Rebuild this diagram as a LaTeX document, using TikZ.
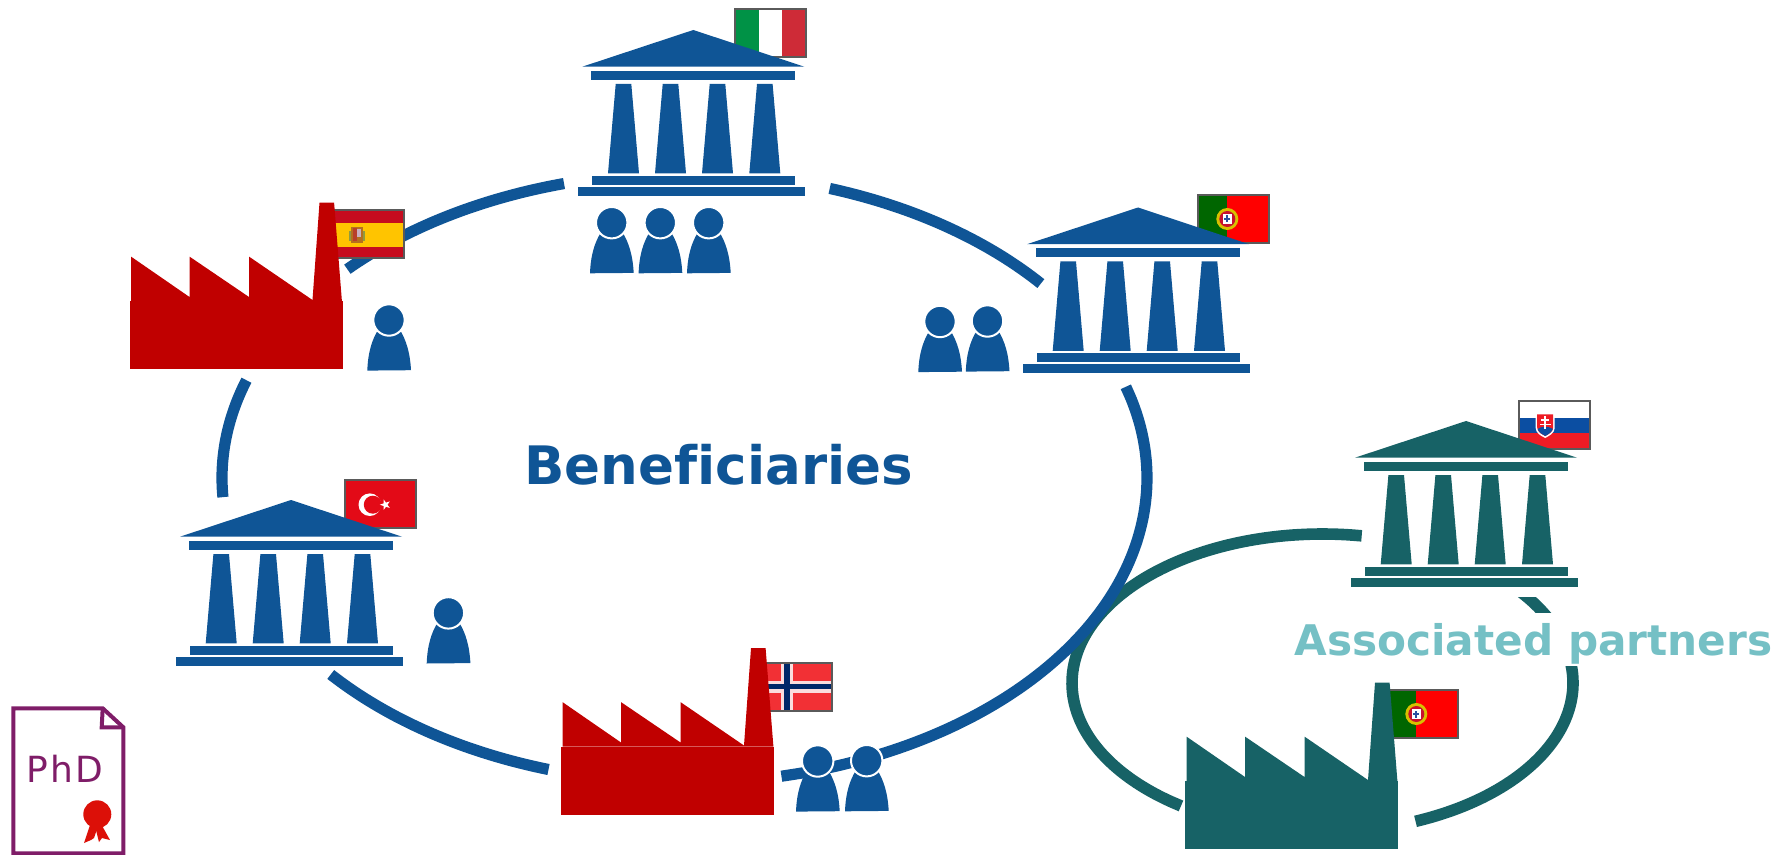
\documentclass[tikz,border=0pt]{standalone}
\usepackage{fontspec}
\setmainfont{DejaVu Sans}[Ligatures=NoCommon]
\definecolor{bblue}{HTML}{0F5596}
\definecolor{tteal}{HTML}{176266}
\definecolor{ltteal}{HTML}{75C0C5}
\definecolor{fred}{HTML}{C00000}
\definecolor{phdp}{HTML}{7F1D68}
\definecolor{flagb}{HTML}{5A5A5A}
\definecolor{itgreen}{HTML}{009246}
\definecolor{itred}{HTML}{CE2B37}
\definecolor{ptgreen}{HTML}{006600}
\definecolor{ptred}{HTML}{FF0000}
\definecolor{ptyel}{HTML}{D8C000}
\definecolor{ptring}{HTML}{C8102E}
\definecolor{ptblue}{HTML}{2A4FA0}
\definecolor{skblue}{HTML}{0B4EA2}
\definecolor{skred}{HTML}{EE1C25}
\definecolor{trred}{HTML}{E30A17}
\definecolor{nored}{HTML}{F23035}
\definecolor{nopale}{HTML}{FBDDDD}
\definecolor{nonavy}{HTML}{002868}
\definecolor{esred}{HTML}{C60B1E}
\definecolor{esyel}{HTML}{FFC400}
\definecolor{esbrown}{HTML}{B5701E}
\definecolor{esred2}{HTML}{B8402A}
\definecolor{esgray}{HTML}{C9B0C0}
\definecolor{esgreen}{HTML}{8F9A40}
\definecolor{sealred}{HTML}{DC1008}
\tikzset{
  ring/.style={line width=5.6pt,draw=bblue},
  tring/.style={line width=5.8pt,draw=tteal},
  flagframe/.style={draw=flagb,line width=1pt},
  pics/temple/.style={code={
    \fill[#1] (0,0)--(-111,36.7)--(111,36.7)--cycle;
    \fill[#1] (-102.3,41) rectangle (101.7,50);
    \foreach \c in {-69.8,-22.8,24.2,71.5}{
      \fill[#1] (\c-7.8,54)--(\c+7.8,54)--(\c+15.5,143.3)--(\c-15.5,143.3)--cycle;}
    \fill[#1] (-101.3,146) rectangle (101.7,155);
    \fill[#1] (-115.3,157) rectangle (111.7,166);
  }},
  pics/factory/.style={code={
    \fill[#1] (0,0) rectangle (213,68);
    \fill[#1] (1.5,0)--(1.5,-44.4)--(60,-4)--(60,-44.4)--(119.5,-4)--(119.5,-44.4)--(183,-1)--(190,-98.3)--(204.6,-98.3)--(212.4,0)--cycle;
  }},
  pics/person/.style={code={
    \fill[bblue] (-21.7,50.6) .. controls (-21,32) and (-17,20) .. (-11,10) -- (11,10) .. controls (17,20) and (21,32) .. (22,50.2) -- cycle;
    \fill[bblue,draw=white,line width=1pt] (0,0) circle (15.7);
  }},
  pics/ptflag/.style={code={
    \fill[ptgreen] (0,0) rectangle (29.3,48);
    \fill[ptred] (29.3,0) rectangle (71,48);
    \fill[ptyel] (29.3,24) circle (11);
    \fill[ptring] (29.3,24) circle (8);
    \fill[white] (25,19) rectangle (33.6,29);
    \fill[ptblue] (28.3,20.5) rectangle (30.3,27.5);
    \fill[ptblue] (26.3,23) rectangle (32.3,25);
    \draw[flagframe] (0,0) rectangle (71,48);
  }}
}
\newcommand{\flagedge}{\draw[flagframe] (0,0) rectangle (71,48);}
\begin{document}
\begin{tikzpicture}[x=0.5pt,y=-0.5pt]
\useasboundingbox (0,0) rectangle (1782,855);
% teal ring
\def\tx#1{1322.5+250.5*cos(#1)}\def\ty#1{683+149*sin(#1)}
\foreach \a/\b in {124.4/279,318/428.2}{
  \draw[tring] plot[smooth,domain=\a:\b,samples=50] ({\tx{\x}},{\ty{\x}});}
\fill[white] (1490,570) rectangle (1600,596.7);
\fill[white] (1295,613) rectangle (1773,666);
% blue ring
\def\ex#1{684.5+462.5*cos(#1)}\def\ey#1{478+305*sin(#1)}
\foreach \a/\b in {223.2/254.9,288.3/320.4,342.6/437.9,107.1/139.9,176.4/198.7}{
  \draw[ring] plot[smooth,domain=\a:\b,samples=40] ({\ex{\x}},{\ey{\x}});}
% Italy flag
\begin{scope}[shift={(735,8.8)}]
  \fill[itgreen] (0,0) rectangle (24,48);
  \fill[white] (24,0) rectangle (47,48);
  \fill[itred] (47,0) rectangle (71,48);
  \flagedge
\end{scope}
% Portugal flags
\pic at (1198,195) {ptflag};
\pic at (1387,690) {ptflag};
% Slovakia
\begin{scope}[shift={(1519,401)}]
  \fill[white] (0,0) rectangle (71,17);
  \fill[skblue] (0,17) rectangle (71,32);
  \fill[skred] (0,32) rectangle (71,48);
  \fill[white] (16.7,12) -- (35.7,12) -- (35.7,27) .. controls (35.7,32) and (30,35) .. (26.2,37) .. controls (22,35) and (16.7,32) .. (16.7,27) -- cycle;
  \fill[skred] (18.2,13.5) -- (34.2,13.5) -- (34.2,26.5) .. controls (34.2,31) and (29,33.5) .. (26.2,35) .. controls (23,33.5) and (18.2,31) .. (18.2,26.5) -- cycle;
  \fill[skblue] (18.6,28) .. controls (22,25) and (30,25) .. (33.8,28) .. controls (32.5,31.5) and (29,33.5) .. (26.2,35) .. controls (23,33.5) and (20,31.5) .. (18.6,28) -- cycle;
  \fill[white] (25.2,15.5) rectangle (27.2,28);
  \fill[white] (22,18.5) rectangle (30.4,20);
  \fill[white] (20.8,22.5) rectangle (31.6,24);
  \flagedge
\end{scope}
% Turkey
\begin{scope}[shift={(344.5,480)}]
  \fill[trred] (0,0) rectangle (71,48);
  \fill[white] (25.3,24.7) circle (11.3);
  \fill[trred] (28.3,24.7) circle (9);
  \begin{scope}[shift={(40.8,24.7)}]
    \fill[white] (180:5.5)--(216:2.2)--(252:5.5)--(288:2.2)--(324:5.5)--(0:2.2)--(36:5.5)--(72:2.2)--(108:5.5)--(144:2.2)--cycle;
  \end{scope}
  \flagedge
\end{scope}
% Norway
\begin{scope}[shift={(761,662.7)}]
  \fill[nored] (0,0) rectangle (71,48);
  \fill[nopale] (20,0) rectangle (32.3,48);
  \fill[nopale] (0,18) rectangle (71,30);
  \fill[nonavy] (23,0) rectangle (29,48);
  \fill[nonavy] (0,21.3) rectangle (71,26.7);
  \flagedge
\end{scope}
% Spain
\begin{scope}[shift={(333.3,210)}]
  \fill[esred] (0,0) rectangle (71,48);
  \fill[esyel] (0,13) rectangle (71,37);
  \fill[esbrown] (18,17) rectangle (30,33);
  \fill[esred2] (20,18) rectangle (24,31);
  \fill[esgray] (24,19) rectangle (28,27);
  \fill[esgreen] (16,21) rectangle (18,31);
  \fill[esgreen] (30,21) rectangle (32,31);
  \flagedge
\end{scope}
% buildings
\pic at (693.3,30) {temple=bblue};
\pic at (1138,207.5) {temple=bblue};
\pic at (291,500) {temple=bblue};
\pic at (1466,421) {temple=tteal};
\pic at (129.5,301) {factory=fred};
\pic at (561,746.5) {factory=fred};
\pic at (1185,781) {factory=tteal};
% people
\foreach \p in {(611.7,222.7),(660.3,222.7),(708.7,222.7),(389,320),(940,321.5),(987.5,321),(448.4,612.9),(817.7,761),(866.7,760.7)}{
  \pic at \p {person};}
% labels
\node[text=bblue,font=\bfseries\fontsize{26.5}{30}\selectfont,inner sep=0pt] (benef) at (718.6,465) {Beneficiaries};
\node[text=ltteal,font=\bfseries\fontsize{21.1}{26}\selectfont,inner sep=0pt] (assoc) at (1533.5,643.5) {Associated partners};
% PhD document
\draw[phdp,line width=2pt,fill=white,line join=miter] (13.3,708.3)--(102.7,708.3)--(123.3,727.3)--(123.3,853.3)--(13.3,853.3)--cycle;
\draw[phdp,line width=2pt] (102.7,708.3)--(101.7,727.3)--(123.3,727.3);
\node[text=phdp,font=\fontsize{18}{20}\selectfont,inner sep=0pt] (phd) at (65,768.5) {\addfontfeature{LetterSpace=6}PhD};
\fill[sealred] (84,843)--(91,822)--(98,826)--(94,838)--(91,840)--cycle;
\fill[sealred] (110,840)--(100,822)--(95,826)--(99,842)--(102,838)--cycle;
\fill[sealred] (97.3,814.3) circle (14);
\end{tikzpicture}
\end{document}
